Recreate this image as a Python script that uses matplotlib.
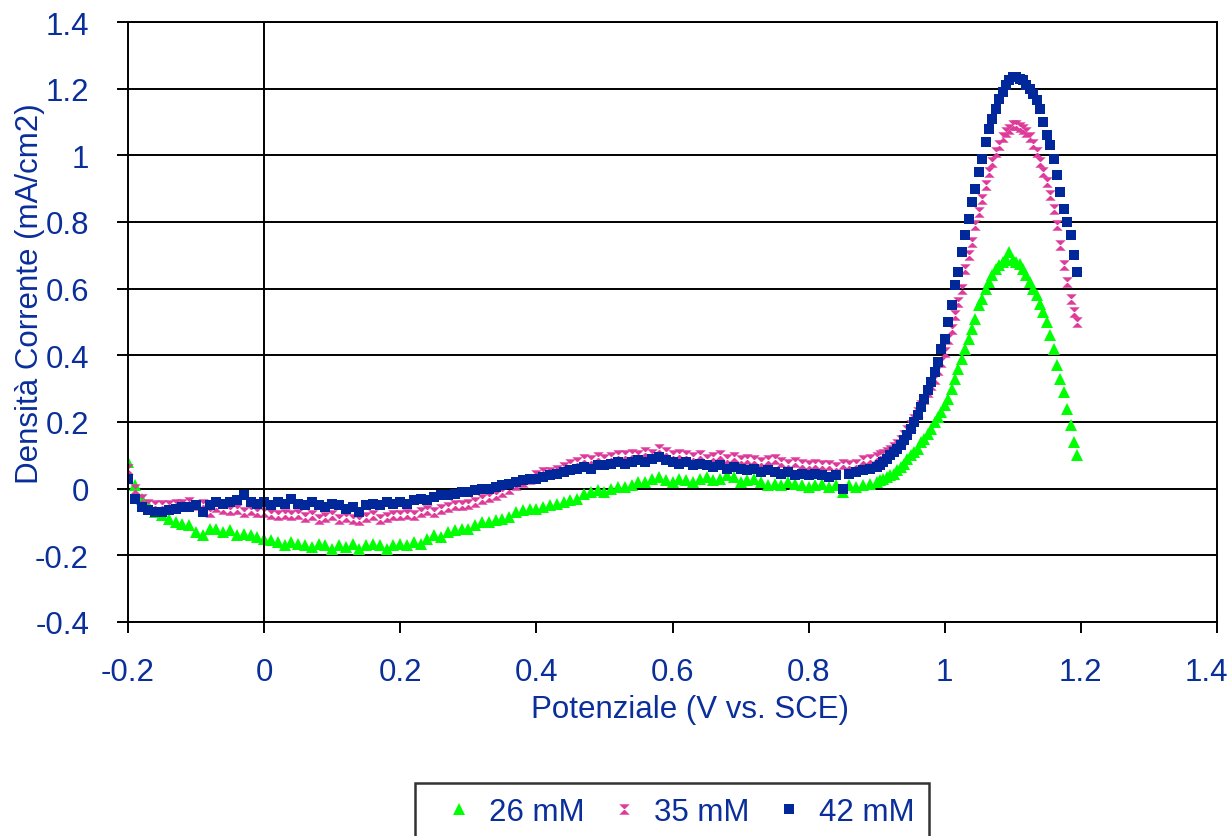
import numpy as np
import matplotlib
matplotlib.use("Agg")
from matplotlib import pyplot as plt
from matplotlib.path import Path
import matplotlib.transforms as mtransforms

plt.rcParams['font.family'] = ['Liberation Sans', 'DejaVu Sans']

# potential sweep: coarse part then fine part around the peak
E_a = np.round(np.arange(-0.20, 0.905, 0.01), 3)
E_b = np.round(np.arange(0.905, 1.1975, 0.005), 3)
E = np.concatenate([E_a, E_b])

# 26 mM
i26_a = [0.08, 0.01, -0.03, -0.05, -0.07, -0.08, -0.09, -0.10, -0.105, -0.11,
         -0.13, -0.14, -0.12, -0.12, -0.13, -0.125, -0.14, -0.135, -0.14, -0.145,
         -0.15, -0.155, -0.16, -0.17, -0.16, -0.165, -0.17, -0.175, -0.165, -0.17,
         -0.18, -0.17, -0.175, -0.165, -0.18, -0.17, -0.165, -0.17, -0.18, -0.17,
         -0.165, -0.17, -0.16, -0.165, -0.15, -0.14, -0.145, -0.13, -0.125, -0.12,
         -0.12, -0.11, -0.10, -0.10, -0.095, -0.09, -0.085, -0.07, -0.065, -0.06,
         -0.06, -0.055, -0.05, -0.045, -0.04, -0.035, -0.03, -0.015, -0.01, -0.005,
         -0.01, 0.0, 0.005, 0.005, 0.01, 0.02, 0.02, 0.03, 0.035, 0.025,
         0.02, 0.03, 0.025, 0.02, 0.03, 0.035, 0.025, 0.03, 0.04, 0.035,
         0.02, 0.025, 0.03, 0.02, 0.01, 0.015, 0.01, 0.02, 0.015, 0.01,
         0.005, 0.01, 0.015, 0.005, 0.01, -0.01, 0.01, 0.005, 0.01, 0.015,
         0.02]
i26_b = [0.025, 0.03, 0.035, 0.04, 0.045, 0.055, 0.065, 0.075, 0.09, 0.10,
         0.11, 0.12, 0.14, 0.15, 0.165, 0.18, 0.20, 0.215, 0.23, 0.25,
         0.27, 0.30, 0.33, 0.36, 0.39, 0.42, 0.45, 0.48, 0.51, 0.55,
         0.57, 0.60, 0.62, 0.64, 0.66, 0.67, 0.68, 0.69, 0.71, 0.685,
         0.68, 0.675, 0.66, 0.64, 0.62, 0.60, 0.58, 0.555, 0.53, 0.50,
         0.46, 0.42, 0.37, 0.33, 0.29, 0.24, 0.19, 0.14, 0.10]

# 35 mM
i35_a = [0.06, 0.0, -0.03, -0.045, -0.05, -0.05, -0.05, -0.045, -0.045, -0.04,
         -0.05, -0.045, -0.07, -0.055, -0.06, -0.065, -0.06, -0.07, -0.065, -0.07,
         -0.07, -0.075, -0.08, -0.075, -0.08, -0.075, -0.085, -0.08, -0.09, -0.085,
         -0.08, -0.09, -0.085, -0.09, -0.095, -0.085, -0.08, -0.09, -0.085, -0.08,
         -0.08, -0.075, -0.08, -0.07, -0.065, -0.07, -0.06, -0.055, -0.05, -0.05,
         -0.045, -0.04, -0.03, -0.025, -0.02, -0.01, 0.0, 0.01, 0.02, 0.03,
         0.04, 0.05, 0.05, 0.055, 0.065, 0.075, 0.08, 0.09, 0.085, 0.095,
         0.09, 0.095, 0.10, 0.10, 0.105, 0.10, 0.11, 0.105, 0.12, 0.11,
         0.10, 0.105, 0.10, 0.095, 0.10, 0.09, 0.095, 0.10, 0.09, 0.095,
         0.085, 0.09, 0.085, 0.08, 0.085, 0.09, 0.08, 0.075, 0.08, 0.075,
         0.07, 0.075, 0.07, 0.07, 0.065, 0.075, 0.07, 0.075, 0.085, 0.09,
         0.095]
i35_b = [0.10, 0.105, 0.11, 0.115, 0.125, 0.135, 0.145, 0.16, 0.175, 0.19,
         0.21, 0.23, 0.25, 0.27, 0.29, 0.31, 0.33, 0.355, 0.38, 0.41,
         0.45, 0.48, 0.52, 0.56, 0.60, 0.66, 0.70, 0.74, 0.79, 0.83,
         0.87, 0.91, 0.95, 0.98, 1.01, 1.03, 1.055, 1.07, 1.08, 1.09,
         1.09, 1.085, 1.08, 1.07, 1.055, 1.035, 1.01, 0.98, 0.95, 0.92,
         0.88, 0.84, 0.79, 0.73, 0.67, 0.62, 0.57, 0.53, 0.50]

# 42 mM
i42_a = [0.03, -0.03, -0.055, -0.065, -0.07, -0.07, -0.065, -0.06, -0.055, -0.055,
         -0.05, -0.07, -0.05, -0.04, -0.045, -0.04, -0.035, -0.02, -0.04, -0.045,
         -0.04, -0.05, -0.04, -0.045, -0.03, -0.045, -0.05, -0.04, -0.05, -0.055,
         -0.045, -0.05, -0.06, -0.055, -0.07, -0.05, -0.045, -0.05, -0.04, -0.045,
         -0.04, -0.045, -0.035, -0.03, -0.035, -0.025, -0.02, -0.02, -0.015, -0.01,
         -0.01, -0.005, 0.0, 0.0, 0.005, 0.01, 0.015, 0.02, 0.025, 0.03,
         0.03, 0.035, 0.04, 0.045, 0.05, 0.055, 0.06, 0.065, 0.06, 0.07,
         0.07, 0.075, 0.08, 0.075, 0.08, 0.085, 0.08, 0.09, 0.095, 0.085,
         0.08, 0.075, 0.08, 0.07, 0.075, 0.07, 0.065, 0.07, 0.06, 0.065,
         0.06, 0.055, 0.06, 0.05, 0.055, 0.05, 0.045, 0.05, 0.04, 0.045,
         0.04, 0.045, 0.04, 0.035, 0.04, 0.0, 0.045, 0.05, 0.055, 0.06,
         0.065]
i42_b = [0.07, 0.08, 0.09, 0.10, 0.11, 0.12, 0.13, 0.145, 0.16, 0.18,
         0.20, 0.22, 0.245, 0.27, 0.295, 0.32, 0.35, 0.38, 0.42, 0.45,
         0.50, 0.55, 0.61, 0.65, 0.71, 0.76, 0.81, 0.86, 0.90, 0.95,
         0.99, 1.04, 1.08, 1.11, 1.14, 1.17, 1.19, 1.21, 1.225, 1.235,
         1.235, 1.23, 1.225, 1.21, 1.20, 1.185, 1.165, 1.14, 1.10, 1.06,
         1.03, 0.99, 0.94, 0.89, 0.84, 0.80, 0.76, 0.70, 0.65]

labels = ["26 mM", "35 mM", "42 mM"]
series = [i26_a + i26_b, i35_a + i35_b, i42_a + i42_b]

txt = '#0A2E9A'
colors = ['#00FF00', '#DD3A9A', '#00289A']
hourglass = Path([(-1, 1), (1, 1), (-1, -1), (1, -1), (-1, 1)],
                 [Path.MOVETO, Path.LINETO, Path.LINETO, Path.LINETO, Path.CLOSEPOLY])
markers = ['^', hourglass, 's']
sizes = [8.5, 7.5, 7]
fs = 22.5

fig = plt.figure(figsize=(12.32, 8.37), dpi=100)
ax = fig.add_axes([128/1232, 1 - 623/837, (1217-128)/1232, 600/837])

for y, lab, c, m, s in zip(series, labels, colors, markers, sizes):
    ax.plot(E, y, linestyle='none', marker=m, markersize=s, color=c,
            markeredgewidth=0, label=lab)

ax.set_xlim(-0.2, 1.4)
ax.set_ylim(-0.4, 1.4)
ax.set_xticks(np.arange(-0.2, 1.41, 0.2))
ax.set_yticks(np.arange(-0.4, 1.41, 0.2))
ax.set_xticklabels(['-0.2', '0', '0.2', '0.4', '0.6', '0.8', '1', '1.2', '1.4'])
ax.set_yticklabels(['-0.4', '-0.2', '0', '0.2', '0.4', '0.6', '0.8', '1', '1.2', '1.4'])
ax.grid(axis='y', color='black', linewidth=1.4)
ax.axvline(0, color='black', linewidth=1.4)
ax.set_axisbelow(True)
for sp in ax.spines.values():
    sp.set_linewidth(1.4)
ax.tick_params(direction='out', length=8, width=1.4, labelsize=fs, labelcolor=txt)
ax.tick_params(axis='y', pad=20)
ax.tick_params(axis='x', pad=17)

# last x label is pulled inward so it stays inside the figure
last = ax.get_xticklabels()[-1]
last.set_transform(last.get_transform() +
                   mtransforms.ScaledTranslation(-11/100, 0, fig.dpi_scale_trans))

fig.text(690/1232, 1 - 710/837, "Potenziale (V vs. SCE)", color=txt, fontsize=fs,
         ha='center', va='center')
fig.text(30/1232, 1 - 294/837, "Densità Corrente (mA/cm2)", color=txt, fontsize=fs,
         ha='center', va='center', rotation=90)

leg = fig.legend(loc='upper center', bbox_to_anchor=(672/1232, 1 - 784/837), ncol=3,
                 fontsize=fs, frameon=True, fancybox=False, edgecolor='black',
                 handlelength=1.9, handletextpad=0.02, columnspacing=0.3,
                 borderpad=0.45, borderaxespad=0)
leg.get_frame().set_linewidth(1.8)
for t in leg.get_texts():
    t.set_color(txt)

plt.savefig("out.png", dpi=100)
